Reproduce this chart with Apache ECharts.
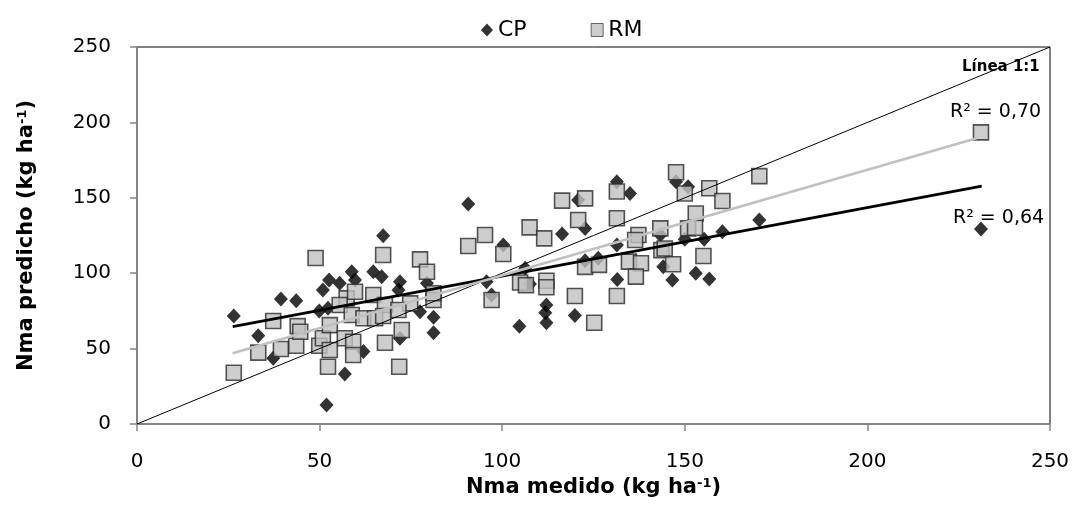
<!DOCTYPE html>
<html><head><meta charset="utf-8">
<script src="https://cdn.jsdelivr.net/npm/echarts@6/dist/echarts.min.js"></script>
<style>html,body{margin:0;padding:0;background:#fff}#c{width:1076px;height:515px}</style>
</head><body><div id="c"></div>
<script>
const xTicks = [0, 50, 100, 150, 200, 250];
const yTicks = [0, 50, 100, 150, 200, 250];
const seriesNames = ['CP', 'RM'];
const cpPoints = [
  [26.5,71.6],[39.4,82.9],[43.6,81.8],[33.2,58.6],[37.3,43.6],[49.9,74.9],[50.9,88.8],[52.6,95.5],
  [51.9,12.6],[67.4,124.9],[55.5,93.3],[58.8,101],[59.7,95.5],[64.7,101],[67,97.7],[72,94.4],
  [71.6,88.8],[79.4,93.3],[77.5,74.5],[81.2,70.8],[81.2,60.5],[72,56.8],[62,48],[56.9,33.2],
  [52.3,76.7],[95.7,94.4],[90.7,145.9],[100.3,118.7],[120.8,148.5],[135,152.9],[131.4,160.7],
  [116.4,126],[122.7,129.7],[131.4,118.7],[106.3,103.2],[107.6,92.9],[122.7,108.3],[126.3,109.9],
  [97.1,85.5],[112.1,78.9],[111.8,73.8],[112.1,67.1],[104.7,64.9],[119.9,71.9],[131.5,95.9],
  [147.6,160.7],[150.9,157.4],[170.4,135.3],[160.3,127.5],[155.3,122.5],[150,122.5],[144.1,104.3],
  [146.6,95.5],[153,99.9],[156.7,96.2],[143.3,125.3],[231.1,129.3]
];
const rmPoints = [
  [26.5,34],[33.2,47.3],[37.3,68.3],[39.4,49.7],[43.6,51.9],[44,64.9],[44.7,61.2],[48.9,110.1],
  [49.9,51.9],[50.9,56.9],[52.3,38],[67.4,112.1],[77.5,109.2],[79.4,101],[90.7,118],[95.3,125.3],
  [97.1,82.2],[57.4,83.3],[59.7,87.7],[64.7,85.5],[55.5,78.9],[67.9,78.9],[74.8,80],[81.2,82.2],
  [81.2,86.7],[58.8,72.3],[62,70.1],[65.2,70.1],[67.4,71.6],[71.6,75.6],[52.8,65.6],[56.9,56.9],
  [59.2,54.5],[52.8,49.1],[59.2,45.8],[72.5,62.3],[67.9,53.9],[71.8,38],
  [100.3,112.7],[107.5,130.4],[111.5,123.1],[116.4,148.1],[122.7,149.6],[120.8,135.3],[131.4,136.4],
  [131.4,154.2],[137.3,125.3],[104.9,93.8],[106.5,92.1],[112.1,95],[112.1,90.7],[119.9,84.9],
  [131.4,84.9],[125.2,67.1],[122.7,104.2],[126.5,105.5],[134.7,107.7],[138,106.6],[136.6,97.7],
  [136.4,122],[147.6,166.9],[150,152.9],[156.7,156.3],[160.3,147.9],[170.4,164.4],[153,139.6],
  [150.9,129.7],[152.8,130.1],[143.3,129.7],[143.6,115.3],[144.5,116.4],[146.8,105.9],[155.1,111.4],
  [231.1,193.4]
];
const cpTrend = [[26.2,64.5],[231.3,157.8]];
const rmTrend = [[26.2,46.9],[229.9,189.5]];
const oneToOne = [[0,0],[250,250]];
const r2Labels = ['R² = 0,70', 'R² = 0,64'];
const lineLabel = 'Línea 1:1';

const chart = echarts.init(document.getElementById('c'));
const F = '"DejaVu Sans", sans-serif';
const axisGray = '#868686';
const richSup = {
  b: {fontFamily: F, fontSize: 21, fontWeight: 'bold', color: '#000'},
  sup: {fontFamily: F, fontSize: 13, fontWeight: 'bold', color: '#000', verticalAlign: 'top'}
};
const yMin = yTicks[0], yMax = yTicks[yTicks.length-1];
chart.setOption({
  animation: false,
  backgroundColor: '#fff',
  grid: {left: 137, right: 26, top: 47, bottom: 91, show: true, borderColor: '#000', borderWidth: 1},
  legend: {
    top: 14, left: 476, itemGap: 64, itemWidth: 12, itemHeight: 13,
    data: [
      {name: seriesNames[0], icon: 'diamond', itemStyle: {color: '#000'}},
      {name: seriesNames[1], icon: 'rect', itemStyle: {color: '#c0c0c0', borderColor: '#444', borderWidth: 1}}
    ],
    textStyle: {fontFamily: F, fontSize: 22, color: '#000'}
  },
  xAxis: {
    type: 'value', min: xTicks[0], max: xTicks[xTicks.length-1], interval: 50,
    axisLine: {lineStyle: {color: axisGray, width: 1.5}},
    axisTick: {show: true, length: 7, lineStyle: {color: axisGray, width: 1.5}},
    splitLine: {show: false},
    axisLabel: {fontFamily: F, fontSize: 20, color: '#000', margin: 28},
    name: '{b|Nma medido (kg ha}{sup|-1}{b|)}', nameLocation: 'middle', nameGap: 50,
    nameTextStyle: {rich: richSup}
  },
  yAxis: [
    {
      type: 'value', min: yMin, max: yMax, interval: 50, position: 'left',
      axisLine: {show: true, lineStyle: {color: axisGray, width: 1.5}},
      axisTick: {show: true, length: 7, lineStyle: {color: axisGray, width: 1.5}},
      splitLine: {show: false},
      axisLabel: {show: false},
      name: '{b|Nma predicho (kg ha}{sup|-1}{b|)}', nameLocation: 'middle', nameGap: 100, nameRotate: 90,
      nameTextStyle: {rich: richSup}
    },
    {
      type: 'value', min: yMin, max: yMax, interval: 50, position: 'left', offset: 20,
      axisLine: {show: false}, axisTick: {show: false}, splitLine: {show: false},
      axisLabel: {fontFamily: F, fontSize: 20, color: '#000', margin: 6}
    }
  ],
  series: [
    {name: 'CP', type: 'scatter', data: cpPoints, symbol: 'diamond', symbolSize: [14, 15], z: 2,
     itemStyle: {color: '#000'}},
    {name: 'RM', type: 'scatter', data: rmPoints, symbol: 'rect', symbolSize: 15, z: 3,
     itemStyle: {color: '#c0c0c0', borderColor: '#2b2b2b', borderWidth: 1.6}},
    {name: '1:1', type: 'line', data: oneToOne, symbol: 'none', z: 4,
     lineStyle: {color: '#000', width: 1}},
    {name: 'CP trend', type: 'line', data: cpTrend, symbol: 'none', z: 4,
     lineStyle: {color: '#000', width: 2.8}},
    {name: 'RM trend', type: 'line', data: rmTrend, symbol: 'none', z: 4,
     lineStyle: {color: '#c0c0c0', width: 2.8}}
  ],
  graphic: [
    {type: 'text', left: 950, top: 103, z: 10, style: {text: r2Labels[0], font: '19px ' + F, fill: '#000'}},
    {type: 'text', left: 953, top: 209, z: 10, style: {text: r2Labels[1], font: '19px ' + F, fill: '#000'}},
    {type: 'text', left: 962, top: 60, z: 10, style: {text: lineLabel, font: 'bold 15px ' + F, fill: '#000'}}
  ]
});
</script></body></html>
